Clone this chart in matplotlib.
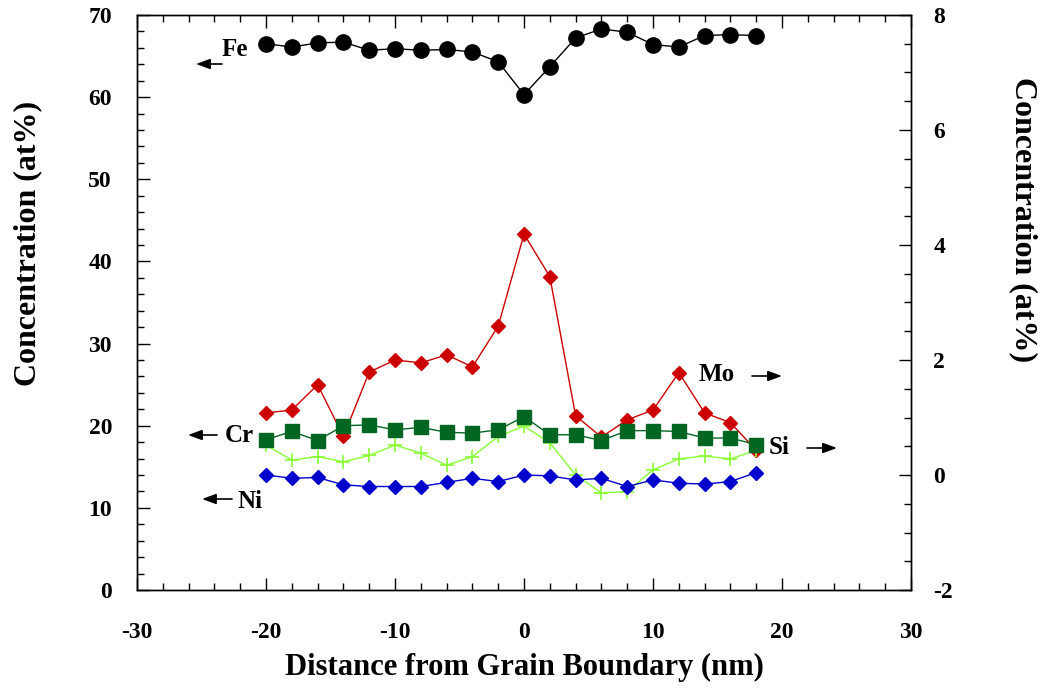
import matplotlib
matplotlib.use("Agg")
import matplotlib.pyplot as plt
from matplotlib.ticker import MultipleLocator

plt.rcParams['font.family'] = ['Liberation Serif', 'DejaVu Serif']
plt.rcParams['font.weight'] = 'bold'
plt.rcParams['axes.unicode_minus'] = False

# Distance from the grain boundary (nm)
distance = [-20, -18, -16, -14, -12, -10, -8, -6, -4, -2,
            0, 2, 4, 6, 8, 10, 12, 14, 16, 18]

# Left-axis species (at%)
fe = [66.5, 66.1, 66.6, 66.7, 65.7, 65.9, 65.7, 65.8, 65.5, 64.3,
      60.3, 63.7, 67.2, 68.3, 67.9, 66.4, 66.1, 67.5, 67.6, 67.5]
cr = [18.3, 19.3, 18.2, 20.0, 20.1, 19.5, 19.8, 19.2, 19.1, 19.5,
      21.1, 18.9, 18.9, 18.2, 19.4, 19.4, 19.3, 18.5, 18.5, 17.7]
ni = [14.0, 13.6, 13.7, 12.8, 12.6, 12.6, 12.6, 13.1, 13.6, 13.2,
      14.0, 13.9, 13.4, 13.6, 12.6, 13.4, 13.0, 12.9, 13.2, 14.3]

# Right-axis species (at%)
mo = [1.08, 1.13, 1.57, 0.67, 1.79, 2.00, 1.95, 2.09, 1.88, 2.59,
      4.19, 3.45, 1.03, 0.66, 0.96, 1.13, 1.78, 1.08, 0.91, 0.43]
si = [0.52, 0.26, 0.32, 0.23, 0.34, 0.52, 0.38, 0.17, 0.32, 0.67,
      0.85, 0.56, 0.00, -0.31, -0.29, 0.09, 0.28, 0.33, 0.28, 0.43]

fig = plt.figure(figsize=(10.42, 6.90), dpi=100)
ax = fig.add_axes([0.1315, 0.1449, 0.7428, 0.8334])
ax2 = ax.twinx()

# right-axis series drawn first so the left-axis ones sit above
ax2.plot(distance, mo, color='#CC0000', marker='D', markersize=7.5, lw=1.0)
ax2.plot(distance, si, color='#88FF33', marker='+', markersize=10, mew=1.2, lw=1.0)

ax.set_zorder(ax2.get_zorder() + 1)
ax.patch.set_visible(False)
ax.plot(distance, fe, color='black', marker='o', markersize=11, lw=1.0)
ax.plot(distance, cr, color='#006622', marker='s', markersize=10, lw=1.0)
ax.plot(distance, ni, color='#0000CC', marker='D', markersize=7.5, lw=1.0)

ax.set_xlim(-30, 30)
ax.set_ylim(0, 70)
ax2.set_ylim(-2, 8)

ax.xaxis.set_major_locator(MultipleLocator(10))
ax.xaxis.set_minor_locator(MultipleLocator(2))
ax.yaxis.set_major_locator(MultipleLocator(10))
ax.yaxis.set_minor_locator(MultipleLocator(2))
ax2.yaxis.set_major_locator(MultipleLocator(2))
ax2.yaxis.set_minor_locator(MultipleLocator(0.5))

ax.tick_params(axis='x', which='both', direction='in', top=True, labelsize=17, pad=23)
ax.tick_params(axis='y', which='both', direction='in', right=False, labelsize=17, pad=18)
ax.tick_params(which='major', length=9, width=1)
ax.tick_params(which='minor', length=5, width=1)
ax2.tick_params(axis='y', which='both', direction='in', labelsize=17, pad=16)
ax2.tick_params(which='major', length=9, width=1)
ax2.tick_params(which='minor', length=5, width=1)

for a in (ax, ax2):
    for s in a.spines.values():
        s.set_linewidth(1.0)

ax.set_xlabel('Distance from Grain Boundary (nm)', fontsize=22, fontweight='bold')
ax.xaxis.set_label_coords(0.5, -0.110)
ax.set_ylabel('Concentration (at%)', fontsize=23, fontweight='bold', va='center')
ax.yaxis.set_label_coords(-0.1408, 0.6035)
ax2.set_ylabel('Concentration (at%)', fontsize=23, fontweight='bold',
               rotation=270, va='center')
ax2.yaxis.set_label_coords(1.1447, 0.6435)

# species labels with arrows pointing at their axis
H = 690

def tag(text, tx, ty, ax_from, ax_to, ay):
    fig.text(tx / 1042, 1 - ty / H, text, fontsize=18, fontweight='bold',
             ha='left', va='center')
    ax.annotate('', xy=(ax_to, H - ay), xytext=(ax_from, H - ay),
                xycoords='figure pixels', textcoords='figure pixels',
                arrowprops=dict(arrowstyle='-|>,head_length=0.6,head_width=0.22',
                                color='black', lw=1.2, shrinkA=0, shrinkB=0,
                                mutation_scale=14))

tag('Fe', 222, 50, 222, 196, 64)
tag('Mo', 699, 374, 752, 782, 376)
tag('Cr', 225, 436, 217, 188, 435)
tag('Ni', 237, 502, 232, 202, 499)
tag('Si', 769, 448, 807, 837, 448)

fig.savefig('out.png', dpi=100)
